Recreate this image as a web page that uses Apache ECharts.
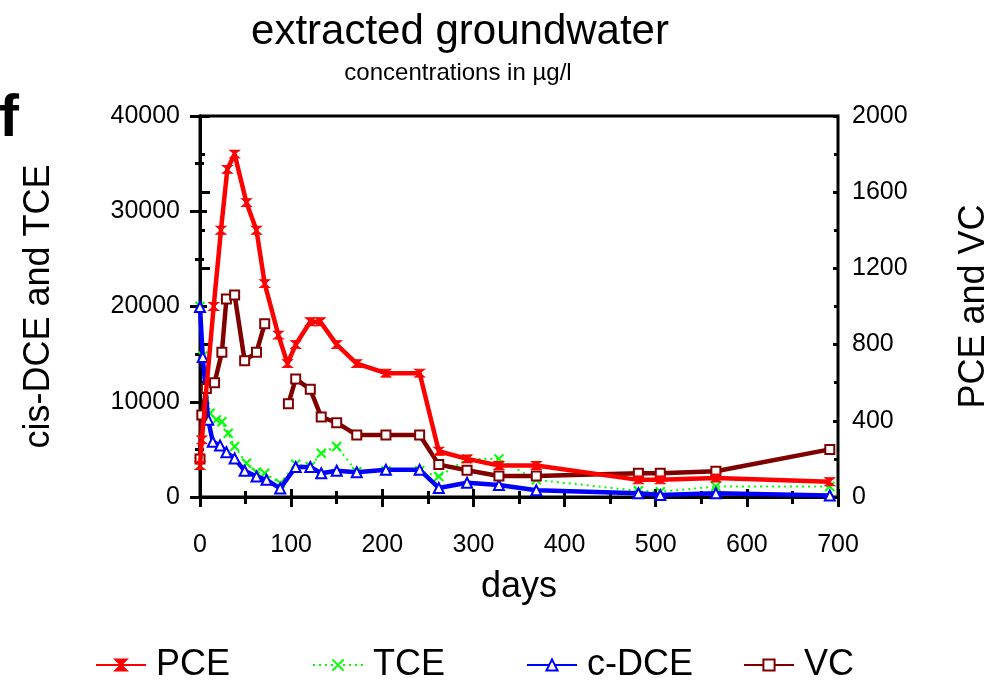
<!DOCTYPE html>
<html>
<head>
<meta charset="utf-8">
<script src="https://cdn.jsdelivr.net/npm/echarts@6/dist/echarts.min.js"></script>
<style>
  html, body { margin: 0; padding: 0; background: #fff; }
  #chart { width: 996px; height: 681px; }
</style>
</head>
<body>
<div id="chart"></div>
<script>
// PCE and VC are read against the right axis, TCE and c-DCE against the left one
const pceDays = [0, 2, 15, 23, 30, 38, 51, 62, 71, 86, 96, 105, 121, 132, 150, 172, 204, 241, 262, 293, 328, 369, 481, 505, 566, 691];
const pceValues = [165, 300, 1000, 1400, 1720, 1800, 1545, 1400, 1120, 850, 700, 800, 920, 920, 800, 700, 650, 650, 240, 200, 165, 165, 90, 90, 100, 80];

const tceDays = [0, 3, 11, 18, 24, 31, 38, 51, 62, 71, 88, 105, 121, 133, 150, 172, 204, 241, 262, 293, 328, 369, 481, 505, 566, 691];
const tceValues = [20000, 14800, 8800, 8100, 7900, 6700, 5300, 3550, 2600, 2500, 1450, 3450, 3200, 4600, 5300, 2650, 2750, 2750, 2150, 4000, 4000, 1800, 650, 550, 1100, 1100];

const dceDays = [0, 3, 9, 14, 22, 29, 38, 49, 62, 73, 88, 105, 121, 133, 150, 172, 204, 241, 262, 293, 328, 369, 481, 505, 566, 691];
const dceValues = [19950, 14700, 8100, 5800, 5400, 4700, 4050, 2750, 2150, 1800, 900, 3150, 3150, 2500, 2750, 2600, 2850, 2850, 950, 1500, 1250, 700, 400, 200, 400, 150];

// null = break in the VC line between day 71 and day 97
const vcDays = [0, 2, 7, 16, 24, 29, 38, 49, 62, 71, 84, 97, 105, 121, 133, 150, 172, 204, 241, 262, 293, 328, 369, 481, 505, 566, 691];
const vcValues = [200, 430, 570, 600, 760, 1040, 1060, 715, 760, 910, null, 490, 620, 565, 420, 390, 325, 325, 325, 170, 140, 110, 110, 125, 125, 135, 250];

const leftTicks = [0, 10000, 20000, 30000, 40000];
const rightTicks = [0, 400, 800, 1200, 1600, 2000];
const dayTicks = [0, 100, 200, 300, 400, 500, 600, 700];

function pairs(days, values) {
  return days.map((d, i) => [d, values[i] === null ? '-' : values[i]]);
}

const font = 'Liberation Sans, Arial, sans-serif';
const hourglass = 'path://M0,0L10,0L0,10L10,10Z';
const cross = 'path://M0,0L10,10M10,0L0,10';

const chart = echarts.init(document.getElementById('chart'));

const axisLabel = { color: '#000', fontSize: 25, fontFamily: font, formatter: v => String(v) };
const axisLine = { show: true, lineStyle: { color: '#000', width: 3 } };

chart.setOption({
  animation: false,
  backgroundColor: '#fff',
  title: [
    { text: 'extracted groundwater', left: 455, top: 6, textAlign: 'center',
      textStyle: { fontSize: 42, fontWeight: 'normal', color: '#000', fontFamily: font } },
    { text: 'concentrations in µg/l', left: 453, top: 56, textAlign: 'center',
      textStyle: { fontSize: 24, fontWeight: 'normal', color: '#000', fontFamily: font } },
    { text: 'f', left: -6, top: 84,
      textStyle: { fontSize: 60, fontWeight: 'bold', color: '#000', fontFamily: font } }
  ],
  legend: [
    { data: ['PCE'], left: 90 },
    { data: ['TCE'], left: 307 },
    { data: ['c-DCE'], left: 521 },
    { data: ['VC'], left: 738 }
  ].map(l => Object.assign(l, {
    top: 642, itemWidth: 50, itemHeight: 14,
    textStyle: { fontSize: 36, color: '#000', fontFamily: font, padding: [0, 0, 0, 5] }
  })),
  grid: {
    left: 200, right: 158, top: 116, bottom: 184, outerBoundsMode: 'none',
    show: true, borderColor: '#000', borderWidth: 3
  },
  xAxis: [{
    type: 'value', min: 0, max: 700, interval: 100,
    name: 'days', nameLocation: 'middle', nameGap: 72,
    nameTextStyle: { fontSize: 36, color: '#000', fontFamily: font },
    axisLine: axisLine,
    axisTick: { show: true, length: 10, lineStyle: { color: '#000', width: 3 } },
    minorTick: { show: true, splitNumber: 2, length: 7, lineStyle: { color: '#000', width: 3 } },
    axisLabel: Object.assign({ margin: 36, customValues: dayTicks }, axisLabel),
    splitLine: { show: false }
  }, {
    type: 'value', min: 0, max: 700, interval: 100, position: 'bottom',
    axisLine: { show: false },
    axisTick: { show: true, inside: true, length: 8, lineStyle: { color: '#000', width: 3 } },
    minorTick: { show: true, splitNumber: 2, length: 6, lineStyle: { color: '#000', width: 3 } },
    axisLabel: { show: false }, splitLine: { show: false }
  }],
  yAxis: [{
    type: 'value', min: 0, max: 40000, interval: 10000, position: 'left',
    name: 'cis-DCE and TCE', nameLocation: 'middle', nameGap: 143,
    nameTextStyle: { fontSize: 36, color: '#000', fontFamily: font },
    axisLine: axisLine,
    axisTick: { show: true, length: 10, lineStyle: { color: '#000', width: 3 } },
    minorTick: { show: true, splitNumber: 2, length: 5, lineStyle: { color: '#000', width: 3 } },
    axisLabel: Object.assign({ margin: 20, customValues: leftTicks }, axisLabel),
    splitLine: { show: false }
  }, {
    type: 'value', min: 0, max: 2000, interval: 400, position: 'right',
    name: 'PCE and VC', nameLocation: 'middle', nameGap: 118,
    nameTextStyle: { fontSize: 36, color: '#000', fontFamily: font },
    axisLine: axisLine,
    axisTick: { show: true, length: 10, lineStyle: { color: '#000', width: 3 } },
    minorTick: { show: true, splitNumber: 2, length: 5, lineStyle: { color: '#000', width: 3 } },
    axisLabel: Object.assign({ margin: 14, customValues: rightTicks }, axisLabel),
    splitLine: { show: false }
  }, {
    type: 'value', min: 0, max: 40000, interval: 10000, position: 'left',
    axisLine: { show: false },
    axisTick: { show: true, inside: true, length: 7, lineStyle: { color: '#000', width: 3 } },
    minorTick: { show: true, splitNumber: 2, length: 4, lineStyle: { color: '#000', width: 3 } },
    axisLabel: { show: false }, splitLine: { show: false }
  }, {
    type: 'value', min: 0, max: 2000, interval: 400, position: 'right',
    axisLine: { show: false },
    axisTick: { show: true, inside: true, length: 5, lineStyle: { color: '#000', width: 3 } },
    minorTick: { show: true, splitNumber: 2, length: 4, lineStyle: { color: '#000', width: 3 } },
    axisLabel: { show: false }, splitLine: { show: false }
  }],
  series: [
    {
      name: 'PCE', type: 'line', yAxisIndex: 1, data: pairs(pceDays, pceValues),
      symbol: hourglass, symbolSize: [10, 8], showAllSymbol: true,
      lineStyle: { color: '#ff0000', width: 4.5 },
      itemStyle: { color: '#ff0000', borderColor: '#ff0000', borderWidth: 1 },
      z: 4
    },
    {
      name: 'TCE', type: 'line', yAxisIndex: 0, data: pairs(tceDays, tceValues),
      symbol: cross, symbolSize: 9, showAllSymbol: true,
      lineStyle: { color: '#00ff00', width: 2, type: [2, 4] },
      itemStyle: { color: '#00ff00', borderColor: '#00ff00', borderWidth: 2 },
      z: 2
    },
    {
      name: 'c-DCE', type: 'line', yAxisIndex: 0, data: pairs(dceDays, dceValues),
      symbol: 'emptyTriangle', symbolSize: 10, showAllSymbol: true,
      lineStyle: { color: '#0000ff', width: 4.5 },
      itemStyle: { color: '#0000ff', borderWidth: 2 },
      z: 3
    },
    {
      name: 'VC', type: 'line', yAxisIndex: 1, data: pairs(vcDays, vcValues),
      symbol: 'emptyRect', symbolSize: 9, showAllSymbol: true, connectNulls: false,
      lineStyle: { color: '#800000', width: 4.5 },
      itemStyle: { color: '#800000', borderWidth: 2 },
      z: 3
    }
  ]
});
</script>
</body>
</html>
